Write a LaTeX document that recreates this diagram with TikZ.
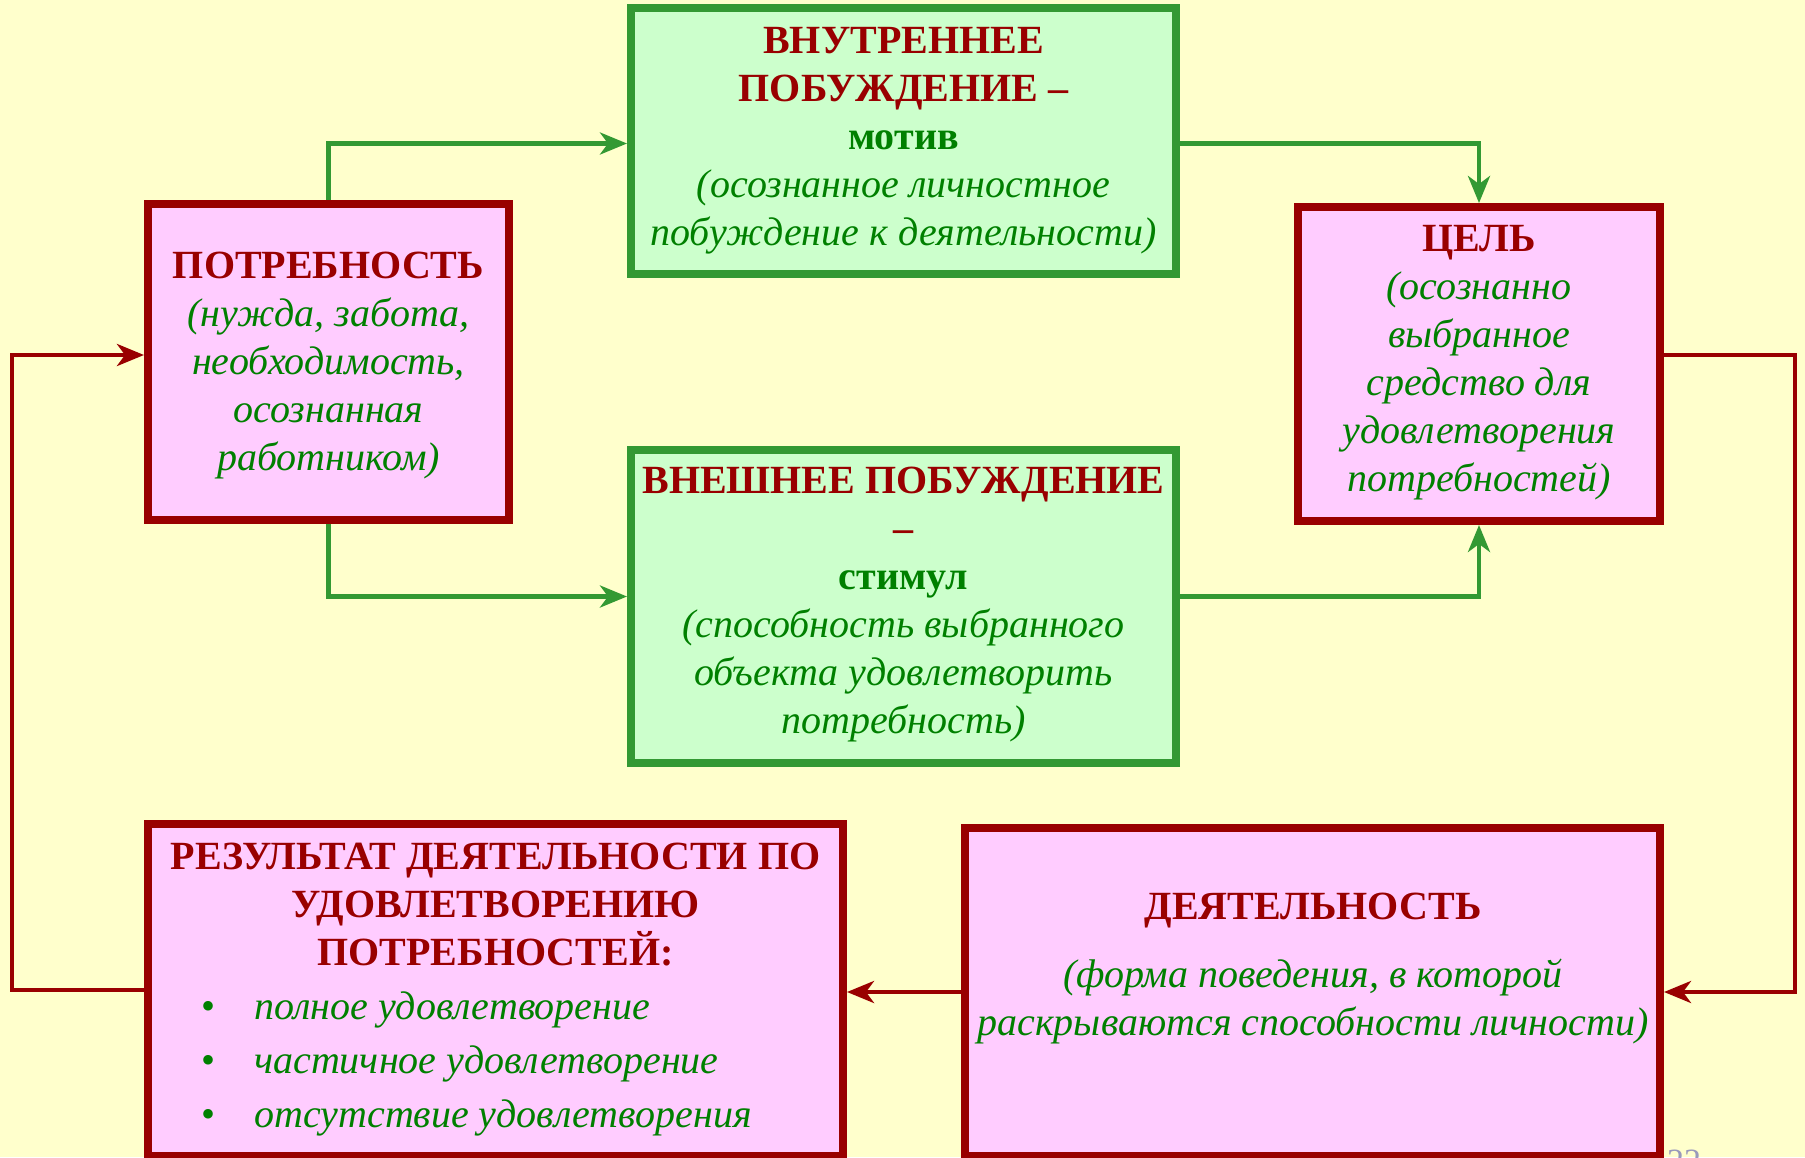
\documentclass[tikz,border=0pt]{standalone}
\usepackage{fontspec}
\setmainfont{Liberation Serif}
\usetikzlibrary{arrows.meta,calc}
\definecolor{bgyellow}{HTML}{FFFFCC}
\definecolor{pinkfill}{HTML}{FFCCFF}
\definecolor{greenfill}{HTML}{CCFFCC}
\definecolor{darkred}{HTML}{990000}
\definecolor{boxgreen}{HTML}{339933}
\definecolor{textgreen}{HTML}{008000}
\definecolor{pagegray}{HTML}{9999BB}
\begin{document}
\begin{tikzpicture}[x=1pt,y=-1pt,
  redbox/.style={draw=darkred,fill=pinkfill,line width=8pt,rectangle,inner sep=0pt},
  greenbox/.style={draw=boxgreen,fill=greenfill,line width=8pt,rectangle,inner sep=0pt},
  boxtext/.style={align=center,inner sep=0pt,font=\fontsize{40}{48}\selectfont},
  garrow/.style={draw=boxgreen,line width=4.5pt,-{Stealth[length=27pt,width=22pt,inset=8pt]}},
  rarrow/.style={draw=darkred,line width=4.5pt,-{Stealth[length=27pt,width=22pt,inset=8pt]}}]
\newcommand{\rt}[1]{{\color{darkred}\bfseries #1}}
\newcommand{\gb}[1]{{\color{textgreen}\bfseries #1}}
\newcommand{\gi}[1]{{\color{textgreen}\itshape #1}}
\useasboundingbox (0,0) rectangle (1805,1157);
\fill[bgyellow] (0,0) rectangle (1805,1157);
% boxes
\node[greenbox,minimum width=545pt,minimum height=266pt] (motive) at (903.5,140.5) {};
\node[greenbox,minimum width=545pt,minimum height=313pt] (stimulus) at (903.5,606.5) {};
\node[redbox,minimum width=361pt,minimum height=316pt] (need) at (328.5,362) {};
\node[redbox,minimum width=362pt,minimum height=314pt] (goal) at (1479,364) {};
\node[redbox,minimum width=695pt,minimum height=332pt] (result) at (495.5,990) {};
\node[redbox,minimum width=695pt,minimum height=328pt] (activity) at (1312.5,992) {};
% texts
\node[boxtext] (tmotive) at (903.5,141) {\rt{ВНУТРЕННЕЕ}\\ \rt{ПОБУЖДЕНИЕ –}\\ \gb{мотив}\\ \gi{(осознанное личностное}\\ \gi{побуждение к деятельности)}};
\node[boxtext] (tstimulus) at (903.5,605) {\rt{ВНЕШНЕЕ ПОБУЖДЕНИЕ}\\ \rt{–}\\ \gb{стимул}\\ \gi{(способность выбранного}\\ \gi{объекта удовлетворить}\\ \gi{потребность)}};
\node[boxtext] (tneed) at (328.5,365.5) {\rt{ПОТРЕБНОСТЬ}\\ \gi{(нужда, забота,}\\ \gi{необходимость,}\\ \gi{осознанная}\\ \gi{работником)}};
\node[boxtext] (tgoal) at (1479,363) {\rt{ЦЕЛЬ}\\ \gi{(осознанно}\\ \gi{выбранное}\\ \gi{средство для}\\ \gi{удовлетворения}\\ \gi{потребностей)}};
\node[boxtext] (tresult) at (495.5,905) {\rt{РЕЗУЛЬТАТ ДЕЯТЕЛЬНОСТИ ПО}\\ \rt{УДОВЛЕТВОРЕНИЮ}\\ \rt{ПОТРЕБНОСТЕЙ:}};
\node[boxtext,align=left,anchor=west] (tlist) at (201,1064) {\gi{\makebox[53pt][l]{\upshape•}полное удовлетворение}\\[6pt] \gi{\makebox[53pt][l]{\upshape•}частичное удовлетворение}\\[6pt] \gi{\makebox[53pt][l]{\upshape•}отсутствие удовлетворения}};
\node[boxtext] (tact) at (1313,911) {\rt{ДЕЯТЕЛЬНОСТЬ}};
\node[boxtext] (tactd) at (1313,1002) {\gi{(форма поведения, в которой}\\ \gi{раскрываются способности личности)}};
\node[anchor=base west,inner sep=0pt,text=pagegray,font=\fontsize{34}{40}\selectfont] (page) at (1667,1172) {22};
% connectors
\draw[garrow] (need.north) |- ([yshift=-3pt]motive.west);
\draw[garrow] ([yshift=-3pt]motive.east) -| (goal.north);
\draw[garrow] (need.south) |- ([yshift=10pt]stimulus.west);
\draw[garrow] ([yshift=10pt]stimulus.east) -| (goal.south);
\draw[rarrow] ([yshift=9pt]goal.east) -- ++(131,0) |- (activity.east);
\draw[rarrow] (activity.west) -- (activity.west -| result.east);
\draw[rarrow] (result.west) -- ++(-132,0) |- ([yshift=7pt]need.west);
\end{tikzpicture}
\end{document}
